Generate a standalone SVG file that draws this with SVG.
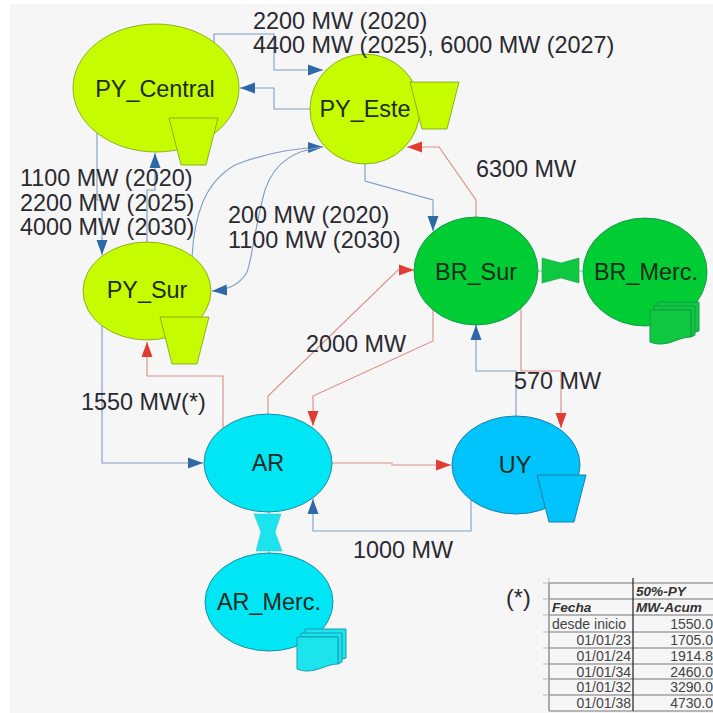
<svg xmlns="http://www.w3.org/2000/svg" width="713" height="713" viewBox="0 0 713 713">
<style>
text{font-family:"Liberation Sans",Arial,sans-serif;fill:#2a2a30}
.lab{font-size:23.4px}
.nl{font-size:23.4px;text-anchor:middle;fill:#1c2b1c}
.b,.r{fill:none;stroke-width:1.1}
.b{stroke:#7f9cc2;marker-end:url(#ab)}
.r{stroke:#dd8d88;marker-end:url(#ar)}
.p{fill:none;stroke:#5fd090;stroke-width:1.1}
.y{fill:#c6fc00;stroke:#7d9a20;stroke-width:.8}
.g{fill:#00cc33;stroke:#1a9a50;stroke-width:1}
.c{fill:#00e6f5;stroke:#1d8ea0;stroke-width:1}
.u{fill:#00c4fb;stroke:#1d7ea8;stroke-width:1}
.gn{fill:#0fc83f;stroke:#17a050;stroke-width:.6}
.cn{fill:#1ce4ef;stroke:#3ac8d8;stroke-width:.6}
.gd{fill:#0fc83f;stroke:#129a48;stroke-width:1}
.cd{fill:#1ce4ef;stroke:#149db0;stroke-width:1}
.grid{stroke:#777;stroke-width:1.2;fill:none}
.t{font-size:14px;fill:#444}
.th{font-size:13.600px;font-weight:bold;font-style:italic;fill:#333}
.tr{text-anchor:end}
</style>
<defs>
<marker id="ab" markerUnits="userSpaceOnUse" markerWidth="16" markerHeight="12" refX="15" refY="6" orient="auto"><path d="M0 0.5L15 6L0 11.500Z" fill="#2f68a6"/></marker>
<marker id="ar" markerUnits="userSpaceOnUse" markerWidth="16" markerHeight="12" refX="15" refY="6" orient="auto"><path d="M0 0.5L15 6L0 11.500Z" fill="#e23b30"/></marker>
<path id="trap" d="M0 0H49L37 47H12Z"/>
<g id="doc">
<path d="M8 0H49V29L41 31V8H8Z"/>
<path d="M4 4H45V33L41 35V8H4Z"/>
<path d="M0 8H41V35C30 35 22 42 10 42C6 42 3 41 0 40Z"/>
</g>
</defs>
<rect width="713" height="713" fill="#ffffff"/>
<rect x="10" y="4" width="703" height="709" fill="#f6f6f6"/>
<g id="connectors">
<path class="b" d="M214 44V34H274V70H323"/>
<path class="b" d="M312 109H274V88H240"/>
<path class="b" d="M192 258C194 215 205 182 235 165C265 153 295 148 323 147"/>
<path class="b" d="M323 147C297 150 275 160 265 190C255 225 253 255 247 272C240 285 228 290 212 291"/>
<path class="b" d="M97 130V200H102V255"/>
<path class="b" d="M147 245V190H155V153"/>
<path class="b" d="M102 324V463H203"/>
<path class="r" d="M223 430V376H147V342"/>
<path class="r" d="M268 416V396L398 270H414"/>
<path class="r" d="M433 308V341L313 396V426"/>
<path class="b" d="M365 160V181L433 200V231"/>
<path class="r" d="M476 220V200L439 147H407"/>
<path class="b" d="M516 419V371H476V325"/>
<path class="r" d="M521 305V371H561V428"/>
<path class="r" d="M330 463H392V465H451"/>
<path class="b" d="M471 496V531H313V499"/>
<path class="p" d="M536 271H586M269 510V555"/>
</g>
<g id="py_central"><ellipse class="y" cx="156" cy="88" rx="83" ry="64"/><use href="#trap" x="169" y="118" class="y"/><text class="nl" x="155" y="97">PY_Central</text></g>
<g id="py_este"><ellipse class="y" cx="365" cy="109" rx="55" ry="55"/><use href="#trap" x="410" y="82" class="y"/><text class="nl" x="365" y="117">PY_Este</text></g>
<g id="py_sur"><ellipse class="y" cx="147" cy="291" rx="64" ry="49"/><use href="#trap" x="160" y="317" class="y"/><text class="nl" x="147" y="298">PY_Sur</text></g>
<g id="br_sur"><ellipse class="g" cx="476" cy="271" rx="62" ry="54"/><text class="nl" x="476" y="280">BR_Sur</text></g>
<g id="br_link"><path class="gn" d="M542 258L561 263L579 258V283L561 278L542 283Z"/></g>
<g id="br_merc"><ellipse class="g" cx="645" cy="272" rx="62" ry="54"/><use href="#doc" x="650" y="302" class="gd"/><text class="nl" x="646" y="280">BR_Merc.</text></g>
<g id="ar"><ellipse class="c" cx="268" cy="463" rx="64" ry="49"/><text class="nl" x="268" y="471">AR</text></g>
<g id="ar_link"><path class="cn" d="M254 514H281L275 532L282 551H256L261 532Z"/></g>
<g id="ar_merc"><ellipse class="c" cx="269" cy="602" rx="64" ry="49"/><use href="#doc" x="297" y="629" class="cd"/><text class="nl" x="269" y="610">AR_Merc.</text></g>
<g id="uy"><ellipse class="u" cx="516" cy="465" rx="64" ry="49"/><use href="#trap" x="537" y="475" class="u"/><text class="nl" x="515" y="473">UY</text></g>
<g id="labels">
<text class="lab" x="253" y="29">2200 MW (2020)</text>
<text class="lab" x="253" y="53">4400 MW (2025), 6000 MW (2027)</text>
<text class="lab" x="20" y="186">1100 MW (2020)</text>
<text class="lab" x="20" y="211">2200 MW (2025)</text>
<text class="lab" x="20" y="235">4000 MW (2030)</text>
<text class="lab" x="228" y="223">200 MW (2020)</text>
<text class="lab" x="228" y="248">1100 MW (2030)</text>
<text class="lab" x="476" y="177">6300 MW</text>
<text class="lab" x="306" y="352">2000 MW</text>
<text class="lab" x="81" y="410">1550 MW(*)</text>
<text class="lab" x="514" y="389">570 MW</text>
<text class="lab" x="353" y="558">1000 MW</text>
<text class="lab" x="506" y="606">(*)</text>
</g>
<g id="table">
<path class="grid" d="M549 583H713M549 599H713M549 615H713M549 632H713M549 648H713M549 664H713M549 679H713M549 695H713M549 711H713"/>
<path class="grid" d="M549 583V711"/>
<path d="M633 578V711" stroke="#222" stroke-width="1.200" fill="none"/>
<path d="M543 583H549M543 599H549M543 615H549M543 632H549M543 648H549M543 664H549M543 679H549M543 695H549M549 578V583" stroke="#bbb" stroke-width="1" fill="none"/>
<text class="th" x="636" y="596">50%-PY</text>
<text class="th" x="552" y="612">Fecha</text>
<text class="th" x="636" y="612">MW-Acum</text>
<text class="t" x="552" y="629">desde inicio</text>
<text class="t tr" x="631" y="645">01/01/23</text>
<text class="t tr" x="631" y="661">01/01/24</text>
<text class="t tr" x="631" y="677">01/01/34</text>
<text class="t tr" x="631" y="692">01/01/32</text>
<text class="t tr" x="631" y="708">01/01/38</text>
<text class="t tr" x="713" y="629">1550.0</text>
<text class="t tr" x="713" y="645">1705.0</text>
<text class="t tr" x="713" y="661">1914.8</text>
<text class="t tr" x="713" y="677">2460.0</text>
<text class="t tr" x="713" y="692">3290.0</text>
<text class="t tr" x="713" y="708">4730.0</text>
</g>
</svg>
